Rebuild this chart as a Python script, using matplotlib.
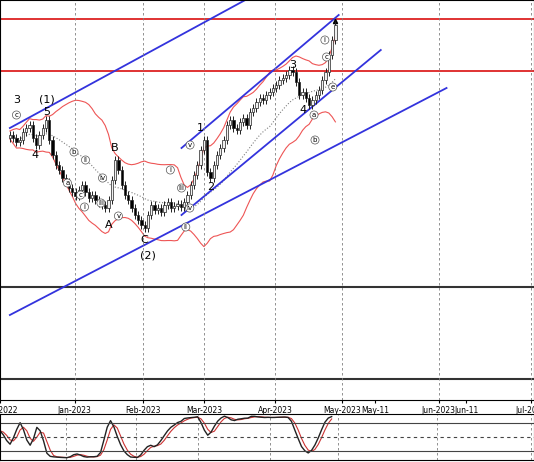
import numpy as np
import matplotlib.pyplot as plt

# closes (price = 400 - row)
close_rows = [135, 138, 142, 140, 132, 128, 125, 138, 145, 135, 128, 120,
              140, 155, 165, 170, 178, 182, 188, 192, 196, 190, 185, 192,
              198, 195, 200, 203, 205, 208, 200, 180, 160, 170, 185, 195,
              200, 208, 215, 220, 225, 228, 215, 205, 210, 208, 212, 205,
              202, 208, 206, 204, 207, 202, 195, 185, 175, 165, 150, 140,
              172, 178, 165, 155, 148, 140, 125, 120, 128, 130, 122, 118,
              125, 112, 108, 102, 98, 100, 95, 92, 88, 85, 80, 78,
              75, 70, 72, 82, 95, 92, 98, 105, 100, 95, 90, 80,
              72, 55, 40, 25]
closes = 400 - np.array(close_rows, dtype=float)
opens = np.r_[closes[0] - 3, closes[:-1]]
wick = 4
highs = np.maximum(opens, closes) + wick
lows = np.minimum(opens, closes) - wick

tick_pos = [-3, 19.7, 40.6, 59.1, 80.6, 100.9, 111, 130.4, 138.8, 158.5]
tick_labels = ['Dec-2022', 'Jan-2023', 'Feb-2023', 'Mar-2023', 'Apr-2023',
               'May-2023', 'May-11', 'Jun-2023', 'Jun-11', 'Jul-2023']
month_lines = [19.7, 40.6, 59.1, 80.6, 100.9, 130.4, 158.5]

red_levels = [381, 329]
black_levels = [113, 21]

# channel lines (x0, y0, x1, y1)
channels = [(0, 272, 71.6, 400), (52.2, 252, 100, 385),
            (52.2, 185, 112.8, 350), (0, 85, 132.8, 312)]

labels = [(2, 300, '3'), (11.3, 300, '(1)'), (11.3, 288, '5'), (7.5, 245, '4'),
          (32, 252, 'B'), (30, 175, 'A'), (41, 160, 'C'), (42, 145, '(2)'),
          (58, 272, '1'), (61, 213, '2'), (86, 335, '3'), (89, 290, '4')]
circled = [(2, 285, 'c'), (19.5, 248, 'b'), (17.5, 217, 'a'), (21.5, 205, 'c'),
           (22.7, 193, 'i'), (23, 240, 'ii'), (27.7, 197, 'iii'), (28.2, 222, 'iv'),
           (33, 184, 'v'), (54.8, 255, 'v'), (52.2, 212, 'iii'), (54.7, 192, 'iv'),
           (53.5, 173, 'ii'), (48.8, 230, 'i'), (95.8, 360, 'i'), (96.3, 343, 'c'),
           (92.5, 285, 'a'), (92.8, 260, 'b'), (98.2, 313, 'e')]

x = np.arange(len(closes))
ma = np.array([closes[max(0, i - 19):i + 1].mean() for i in x])
sd = np.array([closes[max(0, i - 19):i + 1].std() for i in x])
upper, lower = ma + 2 * sd + 4, ma - 2 * sd - 4

k = []
for i in x:
    lo, hi = lows[max(0, i - 13):i + 1].min(), highs[max(0, i - 13):i + 1].max()
    k.append(100 * (closes[i] - lo) / (hi - lo))
k = np.convolve(np.r_[[k[0]] * 2, k], np.ones(3) / 3, 'valid')
d = np.convolve(np.r_[[k[0]] * 2, k], np.ones(3) / 3, 'valid')

fig = plt.figure(figsize=(5.34, 4.62), dpi=100)
ax = fig.add_axes([0, 62 / 462, 1, 400 / 462])
ax2 = fig.add_axes([0, 2 / 462, 1, 46 / 462])

for i in x:
    up = closes[i] >= opens[i]
    ax.vlines(i, lows[i], highs[i], color='#222222', lw=0.7, zorder=3)
    lo_b = min(opens[i], closes[i])
    h = max(abs(closes[i] - opens[i]), 1)
    ax.bar(i, h, bottom=lo_b, width=0.7, color='#f0f0f0' if up else 'black',
           edgecolor='#222222', lw=0.5, zorder=4)
ax.plot(x, ma, color='gray', ls=':', lw=0.8)
ax.plot(x, upper, color='#ee5555', lw=0.8)
ax.plot(x, lower, color='#ee5555', lw=0.8)
for lv in red_levels:
    ax.axhline(lv, color='#dd2222', lw=1.3)
for lv in black_levels:
    ax.axhline(lv, color='#333333', lw=1.5)
for x0, y0, x1, y1 in channels:
    ax.plot([x0, x1], [y0, y1], color='#3333dd', lw=1.3)
for xl, yl, t in labels:
    ax.text(xl, yl, t, ha='center', va='center', fontsize=8, zorder=6)
for xl, yl, t in circled:
    ax.text(xl, yl, t, ha='center', va='center', fontsize=5, zorder=6,
            bbox=dict(boxstyle='circle,pad=0.15', fc='white', ec='#555555', lw=0.5))
ax.plot(99, 379, marker='^', color='black', ms=3)
for m in month_lines:
    ax.axvline(m, color='gray', ls='--', lw=0.6, dashes=(3, 3))
    ax2.axvline(m, color='gray', ls='--', lw=0.6, dashes=(3, 3))
ax.set_xlim(0, 159.4)
ax.set_ylim(0, 400)
ax.set_yticks([])
ax.set_xticks(tick_pos)
ax.set_xticklabels(tick_labels, fontsize=5.5)
ax.tick_params(axis='x', length=2, pad=2)

ax2.plot(x, d, color='#cc3333', lw=0.8)
ax2.plot(x, k, color='#222222', lw=1.0)
ax2.axhline(80, color='#444444', lw=0.8)
ax2.axhline(20, color='#444444', lw=0.8)
ax2.axhline(50, color='#444444', lw=0.8, ls='--', dashes=(3, 3))
ax2.set_xlim(0, 159.4)
ax2.set_ylim(0, 100)
ax2.set_xticks([])
ax2.set_yticks([])

fig.savefig('out.png', dpi=100)
